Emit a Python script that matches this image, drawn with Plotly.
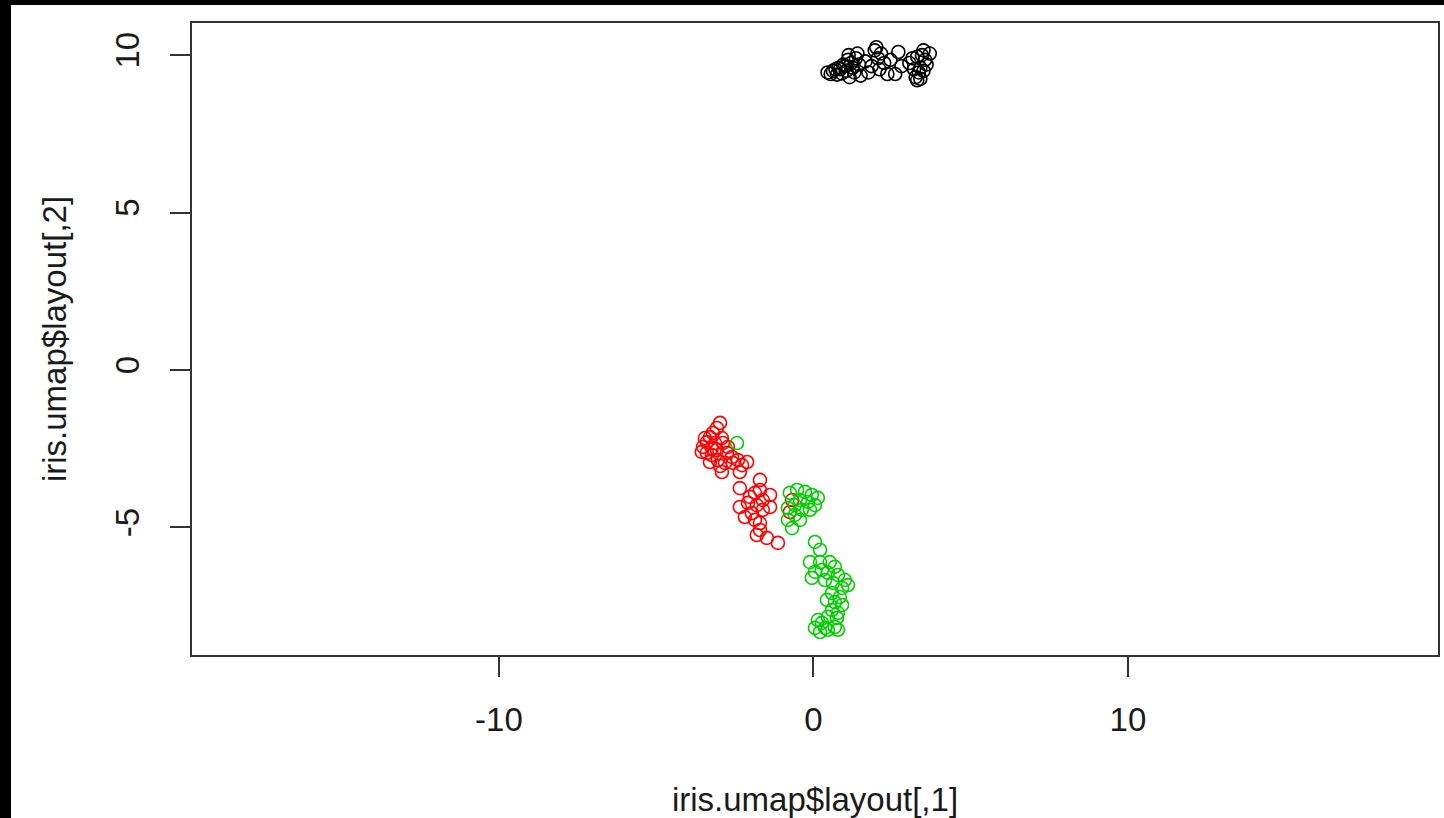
import plotly.graph_objects as go

# UMAP embedding of the iris data, coloured by species
setosa_x = [0.45, 0.55, 0.62, 0.70, 0.75, 0.80, 0.85, 0.90, 0.95, 1.00, 1.05, 1.10, 1.12, 1.15, 1.20, 1.25, 1.30,
            1.35, 1.40, 1.45, 1.50, 1.65, 1.75, 1.85, 1.95, 2.00, 2.05, 2.10, 2.15, 2.25, 2.35, 2.45, 2.60, 2.70,
            2.80, 3.05, 3.15, 3.25, 3.30, 3.35, 3.40, 3.45, 3.50, 3.55, 3.60, 3.40, 3.50, 3.70, 3.30, 3.20]
setosa_y = [9.45, 9.40, 9.50, 9.55, 9.38, 9.60, 9.55, 9.42, 9.70, 9.65, 9.50, 9.85, 10.00, 9.30, 9.75, 9.60, 9.45,
            9.90, 10.05, 9.70, 9.35, 9.80, 9.45, 9.65, 10.15, 10.25, 9.90, 9.55, 10.05, 9.75, 9.40, 9.85, 9.40, 10.10,
            9.65, 9.75, 9.90, 9.30, 9.20, 9.45, 9.60, 10.00, 10.15, 9.85, 9.70, 9.25, 9.50, 10.05, 9.95, 9.55]

versicolor_x = [-2.97, -3.07, -3.20, -3.29, -3.39, -3.51, -3.55, -3.39, -3.23, -3.13, -2.91, -2.88, -3.04, -2.91,
                -2.75, -2.59, -2.40, -2.27, -2.11, -2.34, -3.29, -2.81, -3.45, -3.07, -2.72, -3.23, -2.97, -2.56,
                -2.34, -1.70, -1.70, -1.86, -1.38, -2.34, -2.08, -1.80, -1.38, -1.61, -1.96, -1.86, -1.70, -1.70,
                -1.80, -1.48, -1.13, -2.02, -2.18, -1.61, -0.68, -0.75]
versicolor_y = [-1.68, -1.84, -2.00, -2.13, -2.29, -2.44, -2.60, -2.63, -2.48, -2.32, -2.16, -2.32, -2.86, -3.24,
                -2.63, -2.76, -2.86, -3.02, -2.92, -3.24, -2.92, -2.95, -2.16, -2.54, -2.44, -2.70, -3.05, -2.95,
                -3.75, -3.49, -3.81, -3.90, -3.97, -4.35, -4.22, -4.29, -4.35, -4.44, -4.54, -4.76, -4.86, -5.08,
                -5.24, -5.33, -5.49, -4.03, -4.67, -4.13, -4.13, -4.51]

virginica_x = [-2.43, -0.75, -0.52, -0.27, -0.05, 0.14, 0.05, -0.17, -0.43, -0.59, -0.81, -0.37, -0.11, -0.59,
               -0.81, -0.43, -0.68, 0.05, 0.21, -0.11, 0.21, 0.52, 0.68, -0.05, 0.27, 0.46, 0.78, 1.00, 0.37, 0.62,
               0.91, 0.59, 0.84, 0.68, 0.91, 0.59, 0.46, 0.75, 0.27, 0.05, 0.37, 0.68, 0.21, 0.46, 1.10, 0.05, 0.78,
               0.43, 0.14, 0.78]
virginica_y = [-2.32, -3.90, -3.81, -3.87, -3.97, -4.06, -4.29, -4.19, -4.13, -4.29, -4.38, -4.44, -4.44, -4.60,
               -4.76, -4.76, -5.02, -5.46, -5.71, -6.10, -6.10, -6.10, -6.25, -6.60, -6.35, -6.44, -6.51, -6.67,
               -6.67, -6.76, -6.92, -7.08, -7.21, -7.37, -7.46, -7.62, -7.84, -7.87, -8.03, -8.19, -8.19, -8.16,
               -8.32, -8.25, -6.83, -6.41, -7.71, -7.30, -7.94, -8.25]

x_ticks = [-10, 0, 10]
y_ticks = [-5, 0, 5, 10]

FONT = "Liberation Sans, Arial, sans-serif"
TEXT = "#1a1a1a"
LINE = "#333333"

fig = go.Figure()
for xs, ys, col in [(setosa_x, setosa_y, "#000000"),
                    (versicolor_x, versicolor_y, "#FF0000"),
                    (virginica_x, virginica_y, "#00CD00")]:
    fig.add_trace(go.Scatter(
        x=xs, y=ys, mode="markers",
        marker=dict(symbol="circle-open", size=13, color=col, line=dict(width=1.6, color=col)),
        showlegend=False, hoverinfo="skip",
    ))

axis_common = dict(
    showgrid=False, zeroline=False, showline=True, mirror=True,
    linecolor=LINE, linewidth=1.5,
    ticks="outside", ticklen=20, tickwidth=1.5, tickcolor=LINE,
    tickfont=dict(family=FONT, size=33, color=TEXT),
)

fig.update_xaxes(
    range=[-19.76, 19.86], tickvals=x_ticks, ticktext=[str(v) for v in x_ticks],
    ticklabelstandoff=15,
    title=dict(text="iris.umap$layout[,1]", font=dict(family=FONT, size=33, color=TEXT), standoff=51),
    **axis_common,
)
fig.update_yaxes(
    range=[-9.05, 11.02], tickvals=y_ticks, ticktext=[str(v) for v in y_ticks], tickangle=-90,
    ticklabelstandoff=18,
    title=dict(text="iris.umap$layout[,2]", font=dict(family=FONT, size=33, color=TEXT), standoff=32),
    **axis_common,
)

# dark frame along the top and left edges of the page
fig.add_shape(type="rect", xref="paper", yref="paper",
              x0=-192 / 1246, x1=(11 - 192) / 1246, y0=-163 / 632, y1=(632 + 23) / 632,
              fillcolor="#000000", line=dict(width=0), layer="above")
fig.add_shape(type="rect", xref="paper", yref="paper",
              x0=-192 / 1246, x1=(1246 + 6) / 1246, y0=(632 + 18) / 632, y1=(632 + 23) / 632,
              fillcolor="#000000", line=dict(width=0), layer="above")

fig.update_layout(
    width=1444, height=818,
    margin=dict(l=192, r=6, t=23, b=163, autoexpand=False),
    paper_bgcolor="white", plot_bgcolor="white",
)

fig.write_html("out.html", include_plotlyjs=True)
